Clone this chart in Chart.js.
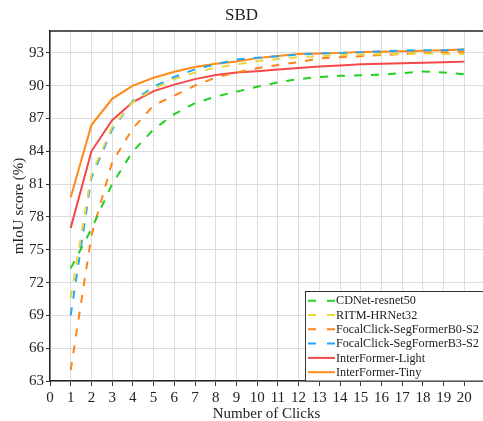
<!DOCTYPE html>
<html>
<head>
<meta charset="utf-8">
<script src="https://cdn.jsdelivr.net/npm/chart.js@4/dist/chart.umd.min.js"></script>
<style>
  html, body { margin: 0; padding: 0; background: #fff; }
  #wrap { width: 483px; height: 421px; position: relative; }
</style>
</head>
<body>
<div id="wrap"><canvas id="c" width="483" height="421"></canvas></div>
<script>
const clicks = [1,2,3,4,5,6,7,8,9,10,11,12,13,14,15,16,17,18,19,20];
const seriesNames = [
  'CDNet-resnet50',
  'RITM-HRNet32',
  'FocalClick-SegFormerB0-S2',
  'FocalClick-SegFormerB3-S2',
  'InterFormer-Light',
  'InterFormer-Tiny'
];
const cdnet = [73.3, 76.9, 81.0, 84.0, 86.0, 87.4, 88.4, 89.0, 89.45, 89.9, 90.3, 90.6, 90.8, 90.9, 90.95, 91.0, 91.15, 91.3, 91.2, 91.05];
const ritm  = [70.6, 81.9, 86.2, 88.5, 89.7, 90.6, 91.2, 91.65, 91.95, 92.25, 92.45, 92.6, 92.7, 92.8, 92.85, 92.9, 92.9, 92.95, 92.9, 92.9];
const focalB0 = [64.0, 76.3, 83.0, 86.1, 88.2, 89.1, 90.0, 90.75, 91.2, 91.6, 91.9, 92.15, 92.5, 92.6, 92.7, 92.8, 92.9, 93.0, 93.05, 93.1];
const focalB3 = [69.0, 81.6, 86.0, 88.6, 89.9, 90.8, 91.5, 91.95, 92.4, 92.55, 92.7, 92.85, 92.95, 93.0, 93.05, 93.15, 93.2, 93.25, 93.25, 93.3];
const ifLight = [77.0, 84.0, 86.85, 88.5, 89.5, 90.1, 90.6, 90.97, 91.2, 91.33, 91.49, 91.61, 91.75, 91.85, 91.95, 92.0, 92.05, 92.1, 92.15, 92.2];
const ifTiny  = [79.8, 86.4, 88.8, 90.0, 90.72, 91.27, 91.7, 92.0, 92.22, 92.52, 92.71, 92.9, 92.95, 93.0, 93.07, 93.1, 93.15, 93.2, 93.25, 93.3];
const yTicks = [63, 66, 69, 72, 75, 78, 81, 84, 87, 90, 93];
const xTicks = [0,1,2,3,4,5,6,7,8,9,10,11,12,13,14,15,16,17,18,19,20];

const allValues = [cdnet, ritm, focalB0, focalB3, ifLight, ifTiny];
const colors = ['#22d022', '#e8d640', '#ff8419', '#22a8f5', '#f4474a', '#ff8a1a'];
const dashes = [[8,9],[8,9],[8,9],[8,9],[],[]];

const FONT = '"Liberation Serif", "Times New Roman", serif';

const datasets = seriesNames.map((name, i) => ({
  label: name,
  data: clicks.map((c, j) => ({x: c, y: allValues[i][j]})),
  borderColor: colors[i],
  backgroundColor: colors[i],
  borderDash: dashes[i],
  borderWidth: 2,
  pointRadius: 0,
  tension: 0,
  fill: false
}));

const framePlugin = {
  id: 'frame',
  afterDatasetsDraw(chart) {
    const {ctx, chartArea} = chart;
    ctx.save();
    ctx.strokeStyle = '#222';
    ctx.lineWidth = 1.5;
    ctx.beginPath();
    ctx.moveTo(chartArea.left, chartArea.top);
    ctx.lineTo(chartArea.right, chartArea.top);
    ctx.stroke();
    ctx.restore();
  },
  afterDraw(chart) {
    const {ctx} = chart;
    const ds = chart.data.datasets;
    const left = 305.5, top = 291.5, right = 490, bottom = 381;
    ctx.save();
    ctx.fillStyle = '#fff';
    ctx.fillRect(left, top, right - left, bottom - top);
    ctx.strokeStyle = '#333';
    ctx.lineWidth = 1;
    ctx.strokeRect(left, top, right - left, bottom - top);
    ctx.font = '12.2px ' + FONT;
    ctx.textBaseline = 'middle';
    ctx.textAlign = 'left';
    ds.forEach((d, i) => {
      const y = 300.7 + i * 14.3;
      ctx.strokeStyle = d.borderColor;
      ctx.lineWidth = 2;
      ctx.setLineDash(d.borderDash.length ? [8, 11] : []);
      ctx.beginPath();
      ctx.moveTo(308, y);
      ctx.lineTo(335, y);
      ctx.stroke();
      ctx.setLineDash([]);
      ctx.fillStyle = '#222';
      ctx.fillText(d.label, 336, y + 0.5);
    });
    ctx.restore();
  }
};

new Chart(document.getElementById('c'), {
  type: 'line',
  data: { datasets },
  plugins: [framePlugin],
  options: {
    responsive: false,
    animation: false,
    layout: { padding: { left: 0, right: 0, top: 0, bottom: 0 } },
    plugins: {
      legend: { display: false },
      tooltip: { enabled: false },
      title: {
        display: true,
        text: 'SBD',
        color: '#222',
        font: { family: FONT, size: 17, weight: 'normal', lineHeight: 1.2 },
        padding: { top: 5, bottom: 5.6 }
      }
    },
    scales: {
      x: {
        type: 'linear',
        min: 0,
        max: 20.9,
        afterFit(s) { s.height = 40; },
        afterBuildTicks(s) { s.ticks = xTicks.map(v => ({value: v})); },
        ticks: {
          stepSize: 1,
          includeBounds: false,
          autoSkip: false,
          maxRotation: 0,
          color: '#222',
          padding: 3,
          font: { family: FONT, size: 15 }
        },
        grid: { color: '#dcdcdc', lineWidth: 1, tickLength: 5, tickColor: '#333' },
        border: { color: '#222', width: 1.5 },
        title: {
          display: true,
          text: 'Number of Clicks',
          color: '#222',
          font: { family: FONT, size: 15, lineHeight: 1.0 },
          padding: { top: 0, bottom: -1 }
        }
      },
      y: {
        type: 'linear',
        min: 63,
        max: 95,
        afterFit(s) { s.width = 50; },
        afterBuildTicks(s) { s.ticks = yTicks.map(v => ({value: v})); },
        ticks: {
          stepSize: 3,
          includeBounds: false,
          color: '#222',
          padding: 2,
          font: { family: FONT, size: 15 }
        },
        grid: { color: '#dcdcdc', lineWidth: 1, tickLength: 4, tickColor: '#333' },
        border: { color: '#222', width: 1.5 },
        title: {
          display: true,
          text: 'mIoU score (%)',
          color: '#222',
          font: { family: FONT, size: 15, lineHeight: 1.2 },
          padding: { top: 10, bottom: 0 }
        }
      }
    }
  }
});
</script>
</body>
</html>
